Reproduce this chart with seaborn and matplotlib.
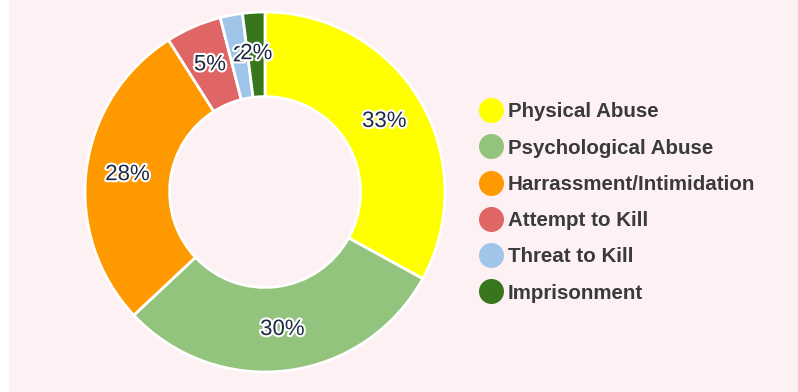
import matplotlib
matplotlib.use("Agg")
import matplotlib.pyplot as plt
from matplotlib.lines import Line2D
from matplotlib.patches import Rectangle
import matplotlib.patheffects as pe
import numpy as np
import seaborn as sns

categories = ["Physical Abuse", "Psychological Abuse", "Harrassment/Intimidation",
              "Attempt to Kill", "Threat to Kill", "Imprisonment"]
shares = [33, 30, 28, 5, 2, 2]
slice_labels = ["33%", "30%", "28%", "5%", "2", "2%"]
colors = sns.color_palette(["#ffff00", "#93c47d", "#ff9900", "#e06666", "#9fc5e8", "#38761d"])

sns.set_theme(style="white")
plt.rcParams["font.family"] = ["Liberation Sans", "DejaVu Sans"]

bg = "#fdf1f4"
fig = plt.figure(figsize=(7.98, 3.92), dpi=100, facecolor=bg)
fig.patches.append(Rectangle((0, 0), 9 / 798, 1, transform=fig.transFigure,
                             facecolor="white", edgecolor="none", zorder=0))

# donut centred at (265, 192) px with outer radius 180 px
R = 180
cx, cy = 265, 392 - 192
ax = fig.add_axes([(cx - R) / 798, (cy - R) / 392, 2 * R / 798, 2 * R / 392])
ax.set_facecolor(bg)

wedges, texts = ax.pie(
    shares, colors=colors, startangle=90, counterclock=False,
    wedgeprops=dict(width=0.47, edgecolor="white", linewidth=2),
    radius=1.0,
)
ax.set_xlim(-1, 1)
ax.set_ylim(-1, 1)
ax.set_aspect("equal")
ax.axis("off")

total = sum(shares)
ang = 90.0
for val, lab in zip(shares, slice_labels):
    span = 360.0 * val / total
    mid = np.deg2rad(ang - span / 2)
    ang -= span
    r = 0.77
    ax.text(r * np.cos(mid), r * np.sin(mid), lab, ha="center", va="center",
            fontsize=16, color="#1f2a44",
            path_effects=[pe.withStroke(linewidth=3, foreground="white")])

handles = [Line2D([0], [0], marker="o", linestyle="none", markersize=17,
                  markerfacecolor=c, markeredgecolor=c) for c in colors]
leg = fig.legend(handles, categories, loc="upper left",
                 bbox_to_anchor=(467 / 798, 1 - 92 / 392),
                 frameon=False, fontsize=14.8, labelspacing=0.84,
                 handletextpad=0.2, handlelength=1.3, borderpad=0)
for t in leg.get_texts():
    t.set_color("#3a3a3a")
    t.set_fontweight("bold")

fig.savefig("out.png", dpi=100, facecolor=bg)
